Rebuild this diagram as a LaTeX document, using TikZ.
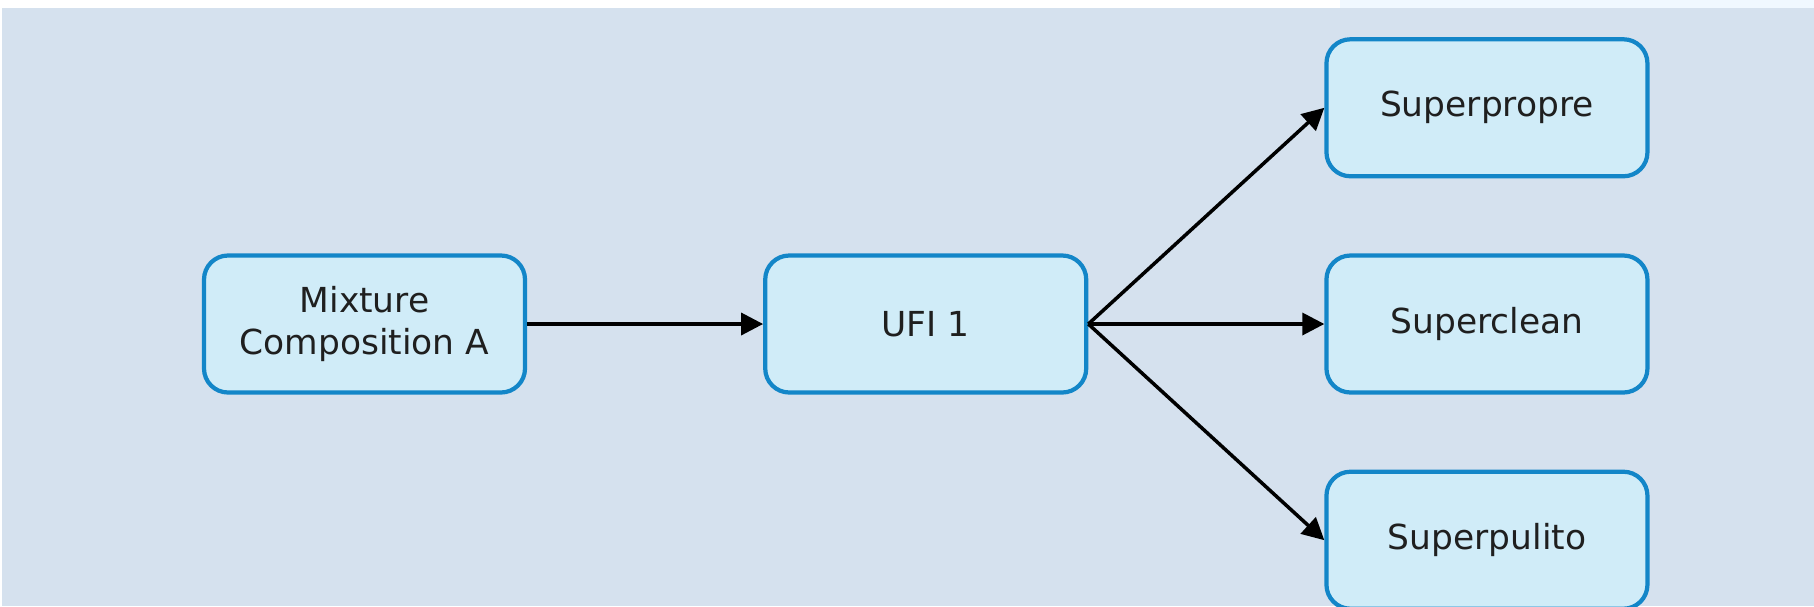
\documentclass[tikz,border=0pt]{standalone}
\usepackage{fontspec}
\setmainfont{DejaVu Sans}
\usetikzlibrary{arrows.meta, positioning}
\definecolor{bgblue}{HTML}{D5E1EE}
\definecolor{topstrip}{HTML}{F0F8FF}
\definecolor{boxfill}{HTML}{D0ECF8}
\definecolor{boxline}{HTML}{1386C8}
\tikzset{
    block/.style={rectangle, draw=boxline, line width=1.2pt, rounded corners=0.24cm, fill=boxfill, align=center, minimum width=3.21cm, minimum height=1.37cm, font=\fontsize{9.8}{11.8}\selectfont, text=black!88},
    arrow/.style={line width=1pt, -{Triangle[length=0.22cm, width=0.22cm]}}
}

\begin{document}
\begin{tikzpicture}[node distance=0.75cm and 2.36cm]
            \useasboundingbox (0,0) rectangle (18.14,-6.06);
            \fill[white] (0,0) rectangle (18.14,-6.06);
            \fill[topstrip] (13.4,0) rectangle (18.14,-0.08);
            \fill[bgblue] (0.02,-0.08) rectangle (18.14,-6.06);

            \node[block] (mix) at (3.645,-3.24) {Mixture\\Composition A};
            \node[block, right=of mix] (ufi) {UFI 1};
            \node[block, right=of ufi] (clean) {Superclean};
            \node[block, above=of clean] (propre) {Superpropre};
            \node[block, below=of clean] (pulito) {Superpulito};

            \draw[arrow] (mix) -- (ufi);
            \draw[arrow] (ufi.east) -- (propre.west);
            \draw[arrow] (ufi.east) -- (clean.west);
            \draw[arrow] (ufi.east) -- (pulito.west);
        \end{tikzpicture}
\end{document}
